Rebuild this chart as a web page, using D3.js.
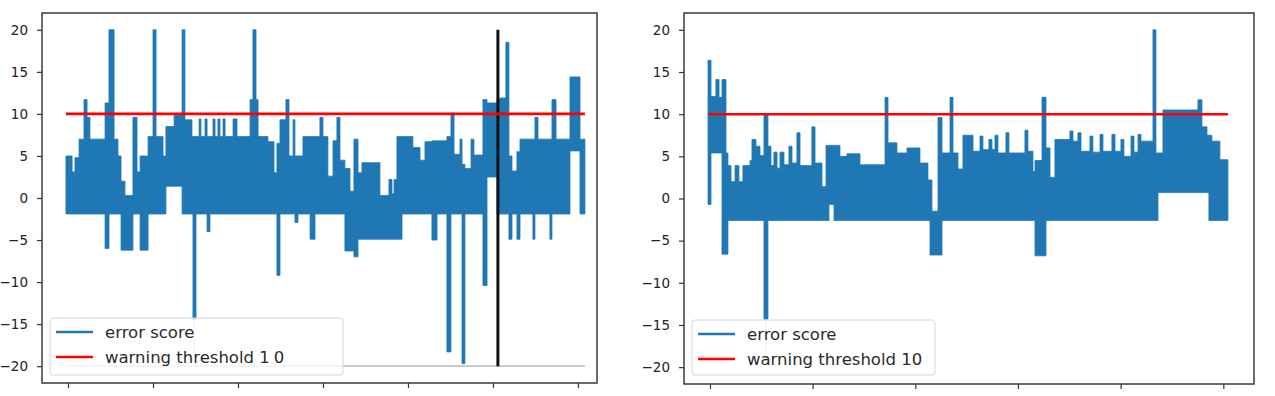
<!DOCTYPE html>
<html>
<head>
<meta charset="utf-8">
<script src="https://cdn.jsdelivr.net/npm/d3@7"></script>
<style>
body { margin: 0; background: #fff; }
svg text { font-family: "DejaVu Sans", sans-serif; }
</style>
</head>
<body>
<div id="graph"></div>
<script>
var leftX = [-12,24,41,65,94,112,129,218,241,271, 294,312,335,382,406,424,471,500,518,559,
             576,624,671,688,729,735,753,771,782,806, 818,835,853,865,882,894,912,924,971,994,
             1071,1088,1106,1118,1176,1212,1229,1247,1282,1300, 1324,1335,1353,1382,1424,1453,1482,1500,1529,1559,
             1582,1600,1629,1659,1682,1706,1729,1835,1888,1906, 1918,1935,1965,2029,2071,2100,2141,2171,2229,2253,
             2271,2306,2318,2335,2371,2388,2441,2465,2524,2541, 2576,2594,2612,2641,2659,2735,2747,2765,2835,2847,
             2871,2953,3012,3041];
var leftHi = [5.0,3.1,4.8,7.0,11.7,9.6,7.0,11.3,20,7.0, 5.0,2.0,0.3,9.6,3.1,5.0,7.3,20,7.3,5.0,
              8.5,9.8,20,9.3,7.3,7.3,7.3,9.4,7.3,9.4, 7.3,7.3,9.4,7.3,9.4,7.3,9.4,7.3,9.4,7.3,
              11.7,20,11.7,7.3,6.7,3.0,6.5,9.3,11.7,5.0, 9.3,5.0,5.0,7.3,7.3,7.3,9.6,7.3,2.6,6.8,
              9.6,4.5,3.5,0.8,7.0,3.0,4.2,0.3,2.2,0.5, 2.2,7.3,7.3,6.0,4.5,6.7,6.8,6.8,7.3,10.1,
              5.2,7.0,4.0,3.5,7.0,5.1,11.7,11.3,11.7,11.9, 18.5,5.0,3.2,5.5,7.0,7.0,9.6,7.0,7.0,11.7,
              7.0,14.4,7.0,7.0];
var leftLo = [-1.9,-1.9,-1.9,-1.9,-1.9,-1.9,-1.9,-6.0,-1.9,-1.9, -1.9,-6.2,-6.2,-1.9,-1.9,-6.2,-1.9,-1.9,-1.9,-1.9,
              1.4,1.4,-1.9,-1.9,-1.9,-14.5,-1.9,-1.9,-1.9,-1.9, -4.0,-1.9,-1.9,-1.9,-1.9,-1.9,-1.9,-1.9,-1.9,-1.9,
              -1.9,-1.9,-1.9,-1.9,-1.9,-1.9,-9.2,-1.9,-1.9,-1.9, -1.9,-2.9,-1.9,-1.9,-4.9,-1.9,-1.9,-1.9,-1.9,-1.9,
              -1.9,-1.9,-6.3,-6.3,-7.0,-4.9,-4.9,-4.9,-4.9,-4.9, -4.9,-4.9,-1.9,-1.9,-1.9,-1.9,-5.0,-1.9,-18.3,-1.9,
              -1.9,-1.9,-19.7,-1.9,-1.9,-1.9,-10.4,2.5,-1.9,-1.9, -1.9,-4.9,-1.9,-4.9,-1.9,-4.9,-1.9,-1.9,-4.9,-1.9,
              -1.9,5.6,-1.9,-1.9];

var rightX = [-19,10,58,88,117,156,175,205,244,282, 321,390,409,448,487,526,565,594,623,653,
              682,721,769,799,847,877,993,1023,1091,1130, 1159,1208,1266,1334,1461,1705,1734,1821,1919,2045,
              2123,2143,2162,2221,2260,2338,2367,2416,2464,2562, 2630,2659,2717,2747,2776,2805,2883,2912,3068,3097,
              3146,3166,3234,3273,3312,3360,3506,3536,3584,3614, 3701,3730,3799,3828,3915,3945,4003,4032,4101,4130,
              4169,4198,4315,4344,4364,4412,4753,4792,4841,4860, 4889,4967,5045];
var rightHi = [16.4,12.1,14.1,12.0,14.1,5.4,3.9,2.0,3.9,2.0, 3.9,4.5,7.0,6.2,5.1,10.1,6.2,3.9,5.5,3.6,
               5.5,4.0,6.2,4.2,7.8,3.9,8.5,4.2,1.4,6.3, 6.3,6.3,5.0,5.3,4.0,12.0,6.6,5.4,6.0,4.2,
               2.2,2.2,-1.5,9.6,5.4,12.0,5.4,3.5,7.5,5.6, 7.4,5.8,7.0,5.8,7.5,5.4,7.8,5.4,8.1,5.6,
               3.2,4.5,12.0,6.0,2.5,7.0,8.0,6.8,7.8,5.6, 7.4,5.5,7.6,5.6,7.6,5.6,7.0,5.0,7.4,5.5,
               7.6,6.8,20.0,5.4,5.4,10.5,11.7,8.5,7.5,7.5, 6.8,4.6,4.6];
var rightLo = [-0.7,5.4,5.4,5.4,-6.6,-6.6,-2.6,-2.6,-2.6,-2.6, -2.6,-2.6,-2.6,-2.6,-2.6,-14.3,-2.6,-2.6,-2.6,-2.6,
               -2.6,-2.6,-2.6,-2.6,-2.6,-2.6,-2.6,-2.6,-2.6,-2.6, -0.7,-2.6,-2.6,-2.6,-2.6,-2.6,-2.6,-2.6,-2.6,-2.6,
               -2.6,-6.7,-6.7,-6.7,-2.6,-2.6,-2.6,-2.6,-2.6,-2.6, -2.6,-2.6,-2.6,-2.6,-2.6,-2.6,-2.6,-2.6,-2.6,-2.6,
               -2.6,-6.8,-6.8,-2.6,-2.6,-2.6,-2.6,-2.6,-2.6,-2.6, -2.6,-2.6,-2.6,-2.6,-2.6,-2.6,-2.6,-2.6,-2.6,-2.6,
               -2.6,-2.6,-2.6,-2.6,0.7,0.7,0.7,0.7,0.7,-2.6, -2.6,-2.6,-2.6];

// faint tails under the deepest dips
var leftTailX = [741], leftTailY = [-18.4];
var rightTailX = [545], rightTailY = [-18.5];

var threshold = 10;
var leftMarkerX = 2529, markerSpan = [-20, 20];
var leftFloor = -20;

var yTicks = [-20, -15, -10, -5, 0, 5, 10, 15, 20];
var leftTicks = [0, 500, 1000, 1500, 2000, 2500, 3000];
var rightTicks = [0, 1000, 2000, 3000, 4000, 5000];
var legendLabels = ["error score", "warning threshold 1"];

var blue = "#1f77b4", red = "#ff0000";

var svg = d3.select("#graph").append("svg")
            .attr("width", 1275)
            .attr("height", 396);

function panel(opt)
{
    var x = d3.scaleLinear().domain(opt.xDomain).range([opt.left, opt.right]);
    var y = d3.scaleLinear().domain([-22, 22]).range([opt.bottom, opt.top]);
    var g = svg.append("g");

    var rows = opt.xs.map(function(d, i) { return {x: d, hi: opt.hi[i], lo: opt.lo[i]}; });

    if (opt.floor !== undefined) {
        g.append("line")
            .attr("x1", x(opt.xs[0])).attr("x2", x(opt.xs[opt.xs.length - 1]))
            .attr("y1", y(opt.floor)).attr("y2", y(opt.floor))
            .attr("stroke", "#c4c4c4").attr("stroke-width", 1.8);
    }

    opt.tailX.forEach(function(t, i) {
        g.append("line")
            .attr("x1", x(t)).attr("x2", x(t))
            .attr("y1", y(-10)).attr("y2", y(opt.tailY[i]))
            .attr("stroke", blue).attr("stroke-width", 1.2).attr("opacity", 0.45);
    });

    var area = d3.area()
        .x(function(d) { return x(d.x); })
        .y0(function(d) { return y(d.lo); })
        .y1(function(d) { return y(d.hi); })
        .curve(d3.curveStepAfter);

    g.append("path")
        .datum(rows)
        .attr("d", area)
        .attr("fill", blue)
        .attr("stroke", blue)
        .attr("stroke-width", 0.8);

    if (opt.marker !== undefined) {
        g.append("line")
            .attr("x1", x(opt.marker)).attr("x2", x(opt.marker))
            .attr("y1", y(markerSpan[0])).attr("y2", y(markerSpan[1]))
            .attr("stroke", "#111").attr("stroke-width", 3);
    }

    g.append("line")
        .attr("x1", x(opt.xs[0])).attr("x2", x(opt.xs[opt.xs.length - 1]))
        .attr("y1", y(threshold)).attr("y2", y(threshold))
        .attr("stroke", red).attr("stroke-width", 2.6);

    // axes
    var ya = g.append("g")
        .attr("transform", "translate(" + opt.left + ",0)")
        .call(d3.axisLeft(y).tickValues(yTicks).tickSize(5).tickPadding(9));
    var xa = g.append("g")
        .attr("transform", "translate(0," + opt.bottom + ")")
        .call(d3.axisBottom(x).tickValues(opt.ticks).tickSize(5).tickFormat(""));
    [ya, xa].forEach(function(a) {
        a.select(".domain").remove();
        a.selectAll("line").attr("stroke", "#333").attr("stroke-width", 1.2);
        a.selectAll("text").attr("fill", "#222").style("font-size", "13.5px")
            .style("font-family", "DejaVu Sans");
    });

    g.append("rect")
        .attr("x", opt.left).attr("y", opt.top)
        .attr("width", opt.right - opt.left).attr("height", opt.bottom - opt.top)
        .attr("fill", "none").attr("stroke", "#3a3a3a").attr("stroke-width", 1.5);

    // legend
    var lg = g.append("g").attr("transform", "translate(" + opt.legend[0] + "," + opt.legend[1] + ")");
    lg.append("rect")
        .attr("width", opt.legend[2]).attr("height", opt.legend[3])
        .attr("rx", 3)
        .attr("fill", "#fff").attr("fill-opacity", 0.8)
        .attr("stroke", "#d6d6d6").attr("stroke-width", 1);
    [blue, red].forEach(function(c, i) {
        var cy = 14 + i * 25;
        lg.append("line")
            .attr("x1", 6).attr("x2", 43).attr("y1", cy).attr("y2", cy)
            .attr("stroke", c).attr("stroke-width", 2.6);
        var t = lg.append("text")
            .attr("x", 55).attr("y", cy + 6)
            .attr("fill", "#2a2a2a")
            .style("font-size", "16.5px")
            .text(legendLabels[i]);
        if (i == 1) t.append("tspan").attr("dx", opt.gap).text("0");
    });
}

panel({xDomain: [-153, 3112], left: 42, right: 597, top: 13, bottom: 383,
       xs: leftX, hi: leftHi, lo: leftLo, tailX: leftTailX, tailY: leftTailY,
       floor: leftFloor, marker: leftMarkerX, ticks: leftTicks,
       legend: [50, 318, 293, 57], gap: 4});

panel({xDomain: [-253, 5299], left: 684, right: 1254, top: 13, bottom: 384,
       xs: rightX, hi: rightHi, lo: rightLo, tailX: rightTailX, tailY: rightTailY,
       ticks: rightTicks,
       legend: [692, 320, 243, 55], gap: 0});
</script>
</body>
</html>
